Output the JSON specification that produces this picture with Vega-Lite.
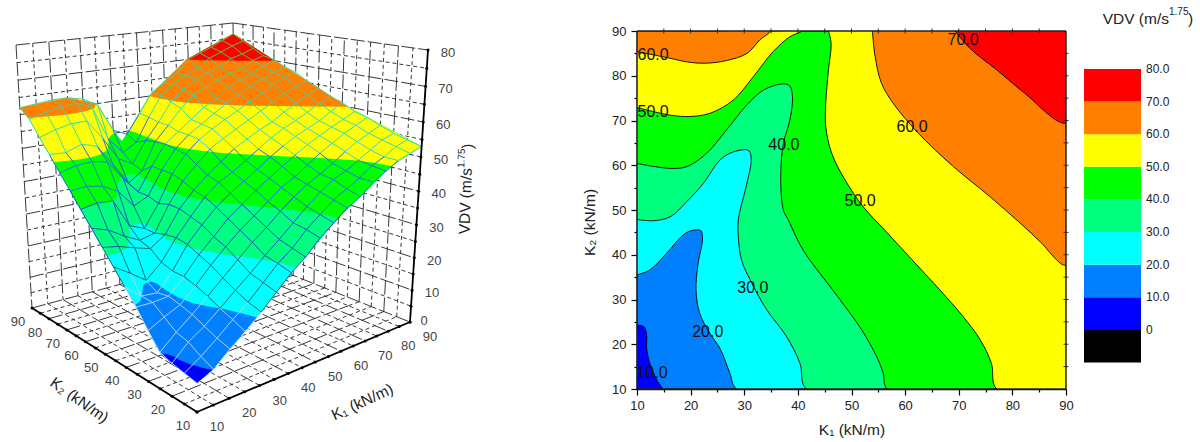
{"$schema":"https://vega.github.io/schema/vega-lite/v6.json","padding":0,"spacing":0,"bounds":"flush","background":"white","config":{"view":{"stroke":null},"font":"Liberation Sans","text":{"font":"Liberation Sans"}},
"datasets":{
"regions":[
{"region":"ge0","band":10,"k1":10,"k2":10,"z":8},{"region":"ge0","band":10,"k1":14.6,"k2":10,"z":10},{"region":"ge0","band":10,"k1":28.6,"k2":10,"z":20},{"region":"ge0","band":10,"k1":41.6,"k2":10,"z":30},{"region":"ge0","band":10,"k1":56.7,"k2":10,"z":40},{"region":"ge0","band":10,"k1":77.1,"k2":10,"z":50},{"region":"ge0","band":10,"k1":90,"k2":10,"z":53},{"region":"ge0","band":10,"k1":90,"k2":37.7,"z":60},{"region":"ge0","band":10,"k1":90,"k2":69.5,"z":70},{"region":"ge0","band":10,"k1":90,"k2":90,"z":76.5},{"region":"ge0","band":10,"k1":69.3,"k2":90,"z":70},{"region":"ge0","band":10,"k1":53.9,"k2":90,"z":60},{"region":"ge0","band":10,"k1":45.7,"k2":90,"z":50},{"region":"ge0","band":10,"k1":43,"k2":90,"z":47},{"region":"ge0","band":10,"k1":40.7,"k2":90,"z":50},{"region":"ge0","band":10,"k1":34.8,"k2":90,"z":60},{"region":"ge0","band":10,"k1":25,"k2":90,"z":63},{"region":"ge0","band":10,"k1":10,"k2":90,"z":62},{"region":"ge0","band":10,"k1":10,"k2":85.4,"z":60},{"region":"ge0","band":10,"k1":10,"k2":72.9,"z":50},{"region":"ge0","band":10,"k1":10,"k2":60.4,"z":40},{"region":"ge0","band":10,"k1":10,"k2":47.9,"z":30},{"region":"ge0","band":10,"k1":10,"k2":35.5,"z":20},{"region":"ge0","band":10,"k1":10,"k2":24.3,"z":10},
{"region":"ge20","band":20,"k1":10,"k2":35.5,"z":20},{"region":"ge20","band":20,"k1":12.4,"k2":36.6,"z":20},{"region":"ge20","band":20,"k1":15.5,"k2":40.3,"z":20},{"region":"ge20","band":20,"k1":18.6,"k2":44.4,"z":20},{"region":"ge20","band":20,"k1":20.2,"k2":45.4,"z":20},{"region":"ge20","band":20,"k1":21.9,"k2":45.4,"z":20},{"region":"ge20","band":20,"k1":22.2,"k2":43.3,"z":20},{"region":"ge20","band":20,"k1":21.4,"k2":38.1,"z":20},{"region":"ge20","band":20,"k1":21,"k2":32.1,"z":20},{"region":"ge20","band":20,"k1":21.7,"k2":26.9,"z":20},{"region":"ge20","band":20,"k1":23.6,"k2":22.4,"z":20},{"region":"ge20","band":20,"k1":25.5,"k2":19,"z":20},{"region":"ge20","band":20,"k1":27.3,"k2":13.6,"z":20},{"region":"ge20","band":20,"k1":28.6,"k2":10,"z":20},{"region":"ge20","band":20,"k1":41.6,"k2":10,"z":30},{"region":"ge20","band":20,"k1":56.7,"k2":10,"z":40},{"region":"ge20","band":20,"k1":77.1,"k2":10,"z":50},{"region":"ge20","band":20,"k1":90,"k2":10,"z":53},{"region":"ge20","band":20,"k1":90,"k2":37.7,"z":60},{"region":"ge20","band":20,"k1":90,"k2":69.5,"z":70},{"region":"ge20","band":20,"k1":90,"k2":90,"z":76.5},{"region":"ge20","band":20,"k1":69.3,"k2":90,"z":70},{"region":"ge20","band":20,"k1":53.9,"k2":90,"z":60},{"region":"ge20","band":20,"k1":45.7,"k2":90,"z":50},{"region":"ge20","band":20,"k1":43,"k2":90,"z":47},{"region":"ge20","band":20,"k1":40.7,"k2":90,"z":50},{"region":"ge20","band":20,"k1":34.8,"k2":90,"z":60},{"region":"ge20","band":20,"k1":25,"k2":90,"z":63},{"region":"ge20","band":20,"k1":10,"k2":90,"z":62},{"region":"ge20","band":20,"k1":10,"k2":85.4,"z":60},{"region":"ge20","band":20,"k1":10,"k2":72.9,"z":50},{"region":"ge20","band":20,"k1":10,"k2":60.4,"z":40},{"region":"ge20","band":20,"k1":10,"k2":47.9,"z":30},
{"region":"ge30","band":30,"k1":10,"k2":47.9,"z":30},{"region":"ge30","band":30,"k1":13,"k2":47.6,"z":30},{"region":"ge30","band":30,"k1":16.2,"k2":48.5,"z":30},{"region":"ge30","band":30,"k1":19.3,"k2":51.9,"z":30},{"region":"ge30","band":30,"k1":22.4,"k2":56,"z":30},{"region":"ge30","band":30,"k1":25.5,"k2":61.2,"z":30},{"region":"ge30","band":30,"k1":28,"k2":63,"z":30},{"region":"ge30","band":30,"k1":30.8,"k2":63.3,"z":30},{"region":"ge30","band":30,"k1":31.3,"k2":61.2,"z":30},{"region":"ge30","band":30,"k1":30.5,"k2":56,"z":30},{"region":"ge30","band":30,"k1":28.9,"k2":47.8,"z":30},{"region":"ge30","band":30,"k1":28.9,"k2":44,"z":30},{"region":"ge30","band":30,"k1":29.5,"k2":38.8,"z":30},{"region":"ge30","band":30,"k1":31.4,"k2":33.7,"z":30},{"region":"ge30","band":30,"k1":34.2,"k2":27.7,"z":30},{"region":"ge30","band":30,"k1":37.9,"k2":21.7,"z":30},{"region":"ge30","band":30,"k1":40.4,"k2":15.7,"z":30},{"region":"ge30","band":30,"k1":41.6,"k2":10,"z":30},{"region":"ge30","band":30,"k1":56.7,"k2":10,"z":40},{"region":"ge30","band":30,"k1":77.1,"k2":10,"z":50},{"region":"ge30","band":30,"k1":90,"k2":10,"z":53},{"region":"ge30","band":30,"k1":90,"k2":37.7,"z":60},{"region":"ge30","band":30,"k1":90,"k2":69.5,"z":70},{"region":"ge30","band":30,"k1":90,"k2":90,"z":76.5},{"region":"ge30","band":30,"k1":69.3,"k2":90,"z":70},{"region":"ge30","band":30,"k1":53.9,"k2":90,"z":60},{"region":"ge30","band":30,"k1":45.7,"k2":90,"z":50},{"region":"ge30","band":30,"k1":43,"k2":90,"z":47},{"region":"ge30","band":30,"k1":40.7,"k2":90,"z":50},{"region":"ge30","band":30,"k1":34.8,"k2":90,"z":60},{"region":"ge30","band":30,"k1":25,"k2":90,"z":63},{"region":"ge30","band":30,"k1":10,"k2":90,"z":62},{"region":"ge30","band":30,"k1":10,"k2":85.4,"z":60},{"region":"ge30","band":30,"k1":10,"k2":72.9,"z":50},{"region":"ge30","band":30,"k1":10,"k2":60.4,"z":40},
{"region":"ge40","band":40,"k1":10,"k2":60.4,"z":40},{"region":"ge40","band":40,"k1":16.2,"k2":59.3,"z":40},{"region":"ge40","band":40,"k1":19.3,"k2":59.7,"z":40},{"region":"ge40","band":40,"k1":23,"k2":62.7,"z":40},{"region":"ge40","band":40,"k1":26.7,"k2":67.9,"z":40},{"region":"ge40","band":40,"k1":30.5,"k2":73.5,"z":40},{"region":"ge40","band":40,"k1":33.6,"k2":76.8,"z":40},{"region":"ge40","band":40,"k1":37.3,"k2":78.2,"z":40},{"region":"ge40","band":40,"k1":38.5,"k2":77.7,"z":40},{"region":"ge40","band":40,"k1":39,"k2":75.3,"z":40},{"region":"ge40","band":40,"k1":38.5,"k2":70.1,"z":40},{"region":"ge40","band":40,"k1":37.3,"k2":64.9,"z":40},{"region":"ge40","band":40,"k1":36.8,"k2":57.4,"z":40},{"region":"ge40","band":40,"k1":37.3,"k2":50,"z":40},{"region":"ge40","band":40,"k1":38.2,"k2":47.8,"z":40},{"region":"ge40","band":40,"k1":41,"k2":41,"z":40},{"region":"ge40","band":40,"k1":46,"k2":32.9,"z":40},{"region":"ge40","band":40,"k1":47.9,"k2":29.9,"z":40},{"region":"ge40","band":40,"k1":51.9,"k2":23.2,"z":40},{"region":"ge40","band":40,"k1":54.7,"k2":17.2,"z":40},{"region":"ge40","band":40,"k1":55.9,"k2":13.6,"z":40},{"region":"ge40","band":40,"k1":56.7,"k2":10,"z":40},{"region":"ge40","band":40,"k1":77.1,"k2":10,"z":50},{"region":"ge40","band":40,"k1":90,"k2":10,"z":53},{"region":"ge40","band":40,"k1":90,"k2":37.7,"z":60},{"region":"ge40","band":40,"k1":90,"k2":69.5,"z":70},{"region":"ge40","band":40,"k1":90,"k2":90,"z":76.5},{"region":"ge40","band":40,"k1":69.3,"k2":90,"z":70},{"region":"ge40","band":40,"k1":53.9,"k2":90,"z":60},{"region":"ge40","band":40,"k1":45.7,"k2":90,"z":50},{"region":"ge40","band":40,"k1":43,"k2":90,"z":47},{"region":"ge40","band":40,"k1":40.7,"k2":90,"z":50},{"region":"ge40","band":40,"k1":34.8,"k2":90,"z":60},{"region":"ge40","band":40,"k1":25,"k2":90,"z":63},{"region":"ge40","band":40,"k1":10,"k2":90,"z":62},{"region":"ge40","band":40,"k1":10,"k2":85.4,"z":60},{"region":"ge40","band":40,"k1":10,"k2":72.9,"z":50},
{"region":"ge50a","band":50,"k1":10,"k2":72.9,"z":50},{"region":"ge50a","band":50,"k1":16.2,"k2":71.2,"z":50},{"region":"ge50a","band":50,"k1":19.9,"k2":70.9,"z":50},{"region":"ge50a","band":50,"k1":23.6,"k2":71.6,"z":50},{"region":"ge50a","band":50,"k1":28,"k2":74.6,"z":50},{"region":"ge50a","band":50,"k1":31.7,"k2":79.8,"z":50},{"region":"ge50a","band":50,"k1":35.4,"k2":85.4,"z":50},{"region":"ge50a","band":50,"k1":38.5,"k2":88.7,"z":50},{"region":"ge50a","band":50,"k1":40.7,"k2":90,"z":50},{"region":"ge50a","band":50,"k1":34.8,"k2":90,"z":60},{"region":"ge50a","band":50,"k1":25,"k2":90,"z":63},{"region":"ge50a","band":50,"k1":10,"k2":90,"z":62},{"region":"ge50a","band":50,"k1":10,"k2":85.4,"z":60},
{"region":"ge50b","band":50,"k1":45.7,"k2":90,"z":50},{"region":"ge50b","band":50,"k1":46.2,"k2":87.2,"z":50},{"region":"ge50b","band":50,"k1":45.7,"k2":81.3,"z":50},{"region":"ge50b","band":50,"k1":45.2,"k2":73.8,"z":50},{"region":"ge50b","band":50,"k1":45.2,"k2":68.6,"z":50},{"region":"ge50b","band":50,"k1":46.3,"k2":62.7,"z":50},{"region":"ge50b","band":50,"k1":48.8,"k2":56.7,"z":50},{"region":"ge50b","band":50,"k1":52.2,"k2":50.7,"z":50},{"region":"ge50b","band":50,"k1":56.2,"k2":45.5,"z":50},{"region":"ge50b","band":50,"k1":62.2,"k2":37.7,"z":50},{"region":"ge50b","band":50,"k1":66.5,"k2":32.1,"z":50},{"region":"ge50b","band":50,"k1":70.8,"k2":26.2,"z":50},{"region":"ge50b","band":50,"k1":74,"k2":21,"z":50},{"region":"ge50b","band":50,"k1":76.1,"k2":15.7,"z":50},{"region":"ge50b","band":50,"k1":77.1,"k2":10,"z":50},{"region":"ge50b","band":50,"k1":90,"k2":10,"z":53},{"region":"ge50b","band":50,"k1":90,"k2":37.7,"z":60},{"region":"ge50b","band":50,"k1":90,"k2":69.5,"z":70},{"region":"ge50b","band":50,"k1":90,"k2":90,"z":76.5},{"region":"ge50b","band":50,"k1":69.3,"k2":90,"z":70},{"region":"ge50b","band":50,"k1":53.9,"k2":90,"z":60},
{"region":"ge60a","band":60,"k1":10,"k2":85.4,"z":60},{"region":"ge60a","band":60,"k1":16.2,"k2":83.9,"z":60},{"region":"ge60a","band":60,"k1":19.3,"k2":83.1,"z":60},{"region":"ge60a","band":60,"k1":22.7,"k2":82.8,"z":60},{"region":"ge60a","band":60,"k1":26.7,"k2":83.4,"z":60},{"region":"ge60a","band":60,"k1":30.5,"k2":85,"z":60},{"region":"ge60a","band":60,"k1":32.9,"k2":88,"z":60},{"region":"ge60a","band":60,"k1":34.8,"k2":90,"z":60},{"region":"ge60a","band":60,"k1":25,"k2":90,"z":63},{"region":"ge60a","band":60,"k1":10,"k2":90,"z":62},
{"region":"ge60b","band":60,"k1":53.9,"k2":90,"z":60},{"region":"ge60b","band":60,"k1":54.4,"k2":84.3,"z":60},{"region":"ge60b","band":60,"k1":55.6,"k2":78.3,"z":60},{"region":"ge60b","band":60,"k1":57.8,"k2":73.8,"z":60},{"region":"ge60b","band":60,"k1":62.2,"k2":67.5,"z":60},{"region":"ge60b","band":60,"k1":69,"k2":59.7,"z":60},{"region":"ge60b","band":60,"k1":75.8,"k2":53,"z":60},{"region":"ge60b","band":60,"k1":82.9,"k2":45.5,"z":60},{"region":"ge60b","band":60,"k1":85.2,"k2":42.9,"z":60},{"region":"ge60b","band":60,"k1":90,"k2":37.7,"z":60},{"region":"ge60b","band":60,"k1":90,"k2":69.5,"z":70},{"region":"ge60b","band":60,"k1":90,"k2":90,"z":76.5},{"region":"ge60b","band":60,"k1":69.3,"k2":90,"z":70},
{"region":"ge70","band":70,"k1":69.3,"k2":90,"z":70},{"region":"ge70","band":70,"k1":72.1,"k2":86.1,"z":70},{"region":"ge70","band":70,"k1":77.1,"k2":81.3,"z":70},{"region":"ge70","band":70,"k1":82,"k2":76.4,"z":70},{"region":"ge70","band":70,"k1":90,"k2":69.5,"z":70},{"region":"ge70","band":70,"k1":90,"k2":90,"z":76.5},
{"region":"lt10","band":0,"k1":10,"k2":24.3,"z":10},{"region":"lt10","band":0,"k1":11.3,"k2":23.9,"z":10},{"region":"lt10","band":0,"k1":11.8,"k2":22.1,"z":10},{"region":"lt10","band":0,"k1":11.8,"k2":19.1,"z":10},{"region":"lt10","band":0,"k1":12.4,"k2":15.7,"z":10},{"region":"lt10","band":0,"k1":13.7,"k2":12,"z":10},{"region":"lt10","band":0,"k1":14.6,"k2":10,"z":10},{"region":"lt10","band":0,"k1":10,"k2":10,"z":8}
],
"surface":[
{"k2":10,"k1":10,"z":8},{"k2":10,"k1":15,"z":10},{"k2":10,"k1":20,"z":14},{"k2":10,"k1":25,"z":17},{"k2":10,"k1":30,"z":21},{"k2":10,"k1":35,"z":25},{"k2":10,"k1":40,"z":29},{"k2":10,"k1":45,"z":32},{"k2":10,"k1":50,"z":36},{"k2":10,"k1":55,"z":39},{"k2":10,"k1":60,"z":42},{"k2":10,"k1":65,"z":44},{"k2":10,"k1":70,"z":47},{"k2":10,"k1":75,"z":49},{"k2":10,"k1":80,"z":51},{"k2":10,"k1":85,"z":52},{"k2":10,"k1":90,"z":53},
{"k2":15,"k1":10,"z":8.7},{"k2":15,"k1":15,"z":11.6},{"k2":15,"k1":20,"z":15},{"k2":15,"k1":25,"z":18.6},{"k2":15,"k1":30,"z":22},{"k2":15,"k1":35,"z":26},{"k2":15,"k1":40,"z":30},{"k2":15,"k1":45,"z":33},{"k2":15,"k1":50,"z":37},{"k2":15,"k1":55,"z":40},{"k2":15,"k1":60,"z":43},{"k2":15,"k1":65,"z":45},{"k2":15,"k1":70,"z":47},{"k2":15,"k1":75,"z":49.5},{"k2":15,"k1":80,"z":51},{"k2":15,"k1":85,"z":53},{"k2":15,"k1":90,"z":54},
{"k2":20,"k1":10,"z":9.4},{"k2":20,"k1":15,"z":13.7},{"k2":20,"k1":20,"z":16.5},{"k2":20,"k1":25,"z":20},{"k2":20,"k1":30,"z":23.6},{"k2":20,"k1":35,"z":27},{"k2":20,"k1":40,"z":30.7},{"k2":20,"k1":45,"z":34},{"k2":20,"k1":50,"z":37.5},{"k2":20,"k1":55,"z":41},{"k2":20,"k1":60,"z":44},{"k2":20,"k1":65,"z":46.5},{"k2":20,"k1":70,"z":48},{"k2":20,"k1":75,"z":50},{"k2":20,"k1":80,"z":52},{"k2":20,"k1":85,"z":54},{"k2":20,"k1":90,"z":55},
{"k2":25,"k1":10,"z":10.5},{"k2":25,"k1":15,"z":14.5},{"k2":25,"k1":20,"z":18},{"k2":25,"k1":25,"z":21.7},{"k2":25,"k1":30,"z":25.5},{"k2":25,"k1":35,"z":29.3},{"k2":25,"k1":40,"z":33},{"k2":25,"k1":45,"z":36},{"k2":25,"k1":50,"z":39.5},{"k2":25,"k1":55,"z":42.5},{"k2":25,"k1":60,"z":45},{"k2":25,"k1":65,"z":47},{"k2":25,"k1":70,"z":49},{"k2":25,"k1":75,"z":51.5},{"k2":25,"k1":80,"z":53.5},{"k2":25,"k1":85,"z":55},{"k2":25,"k1":90,"z":56.5},
{"k2":30,"k1":10,"z":14.7},{"k2":30,"k1":15,"z":17},{"k2":30,"k1":20,"z":19},{"k2":30,"k1":25,"z":23},{"k2":30,"k1":30,"z":27.5},{"k2":30,"k1":35,"z":31.5},{"k2":30,"k1":40,"z":35},{"k2":30,"k1":45,"z":38},{"k2":30,"k1":50,"z":41},{"k2":30,"k1":55,"z":44},{"k2":30,"k1":60,"z":46},{"k2":30,"k1":65,"z":48.5},{"k2":30,"k1":70,"z":51},{"k2":30,"k1":75,"z":53},{"k2":30,"k1":80,"z":55},{"k2":30,"k1":85,"z":56.5},{"k2":30,"k1":90,"z":58},
{"k2":35,"k1":10,"z":19.6},{"k2":35,"k1":15,"z":19.4},{"k2":35,"k1":20,"z":19.7},{"k2":35,"k1":25,"z":24},{"k2":35,"k1":30,"z":29},{"k2":35,"k1":35,"z":33},{"k2":35,"k1":40,"z":37},{"k2":35,"k1":45,"z":40},{"k2":35,"k1":50,"z":43},{"k2":35,"k1":55,"z":45.5},{"k2":35,"k1":60,"z":48},{"k2":35,"k1":65,"z":50.3},{"k2":35,"k1":70,"z":52.5},{"k2":35,"k1":75,"z":54.3},{"k2":35,"k1":80,"z":56},{"k2":35,"k1":85,"z":57.5},{"k2":35,"k1":90,"z":59},
{"k2":40,"k1":10,"z":23.6},{"k2":40,"k1":15,"z":19.5},{"k2":40,"k1":20,"z":19},{"k2":40,"k1":25,"z":24},{"k2":40,"k1":30,"z":30.5},{"k2":40,"k1":35,"z":35},{"k2":40,"k1":40,"z":39},{"k2":40,"k1":45,"z":42},{"k2":40,"k1":50,"z":44.5},{"k2":40,"k1":55,"z":47},{"k2":40,"k1":60,"z":49.7},{"k2":40,"k1":65,"z":52},{"k2":40,"k1":70,"z":54},{"k2":40,"k1":75,"z":55.5},{"k2":40,"k1":80,"z":57},{"k2":40,"k1":85,"z":59},{"k2":40,"k1":90,"z":61},
{"k2":45,"k1":10,"z":27.7},{"k2":45,"k1":15,"z":24.5},{"k2":45,"k1":20,"z":21},{"k2":45,"k1":25,"z":25},{"k2":45,"k1":30,"z":31},{"k2":45,"k1":35,"z":36},{"k2":45,"k1":40,"z":40.7},{"k2":45,"k1":45,"z":44},{"k2":45,"k1":50,"z":46},{"k2":45,"k1":55,"z":48.5},{"k2":45,"k1":60,"z":51},{"k2":45,"k1":65,"z":53.5},{"k2":45,"k1":70,"z":55.5},{"k2":45,"k1":75,"z":57},{"k2":45,"k1":80,"z":58.7},{"k2":45,"k1":85,"z":60.7},{"k2":45,"k1":90,"z":62},
{"k2":50,"k1":10,"z":31.7},{"k2":50,"k1":15,"z":30.7},{"k2":50,"k1":20,"z":29},{"k2":50,"k1":25,"z":27.5},{"k2":50,"k1":30,"z":30.5},{"k2":50,"k1":35,"z":37},{"k2":50,"k1":40,"z":41.5},{"k2":50,"k1":45,"z":45},{"k2":50,"k1":50,"z":48},{"k2":50,"k1":55,"z":51},{"k2":50,"k1":60,"z":53},{"k2":50,"k1":65,"z":55},{"k2":50,"k1":70,"z":56.5},{"k2":50,"k1":75,"z":58.7},{"k2":50,"k1":80,"z":60.7},{"k2":50,"k1":85,"z":62.5},{"k2":50,"k1":90,"z":64},
{"k2":55,"k1":10,"z":35.7},{"k2":55,"k1":15,"z":34},{"k2":55,"k1":20,"z":31},{"k2":55,"k1":25,"z":28.5},{"k2":55,"k1":30,"z":29.5},{"k2":55,"k1":35,"z":37},{"k2":55,"k1":40,"z":43},{"k2":55,"k1":45,"z":47},{"k2":55,"k1":50,"z":50.7},{"k2":55,"k1":55,"z":53},{"k2":55,"k1":60,"z":55},{"k2":55,"k1":65,"z":57},{"k2":55,"k1":70,"z":59},{"k2":55,"k1":75,"z":61},{"k2":55,"k1":80,"z":63},{"k2":55,"k1":85,"z":64.5},{"k2":55,"k1":90,"z":65.5},
{"k2":60,"k1":10,"z":39.7},{"k2":60,"k1":15,"z":40.5},{"k2":60,"k1":20,"z":40},{"k2":60,"k1":25,"z":31.5},{"k2":60,"k1":30,"z":29.5},{"k2":60,"k1":35,"z":36},{"k2":60,"k1":40,"z":44},{"k2":60,"k1":45,"z":49},{"k2":60,"k1":50,"z":52.5},{"k2":60,"k1":55,"z":55},{"k2":60,"k1":60,"z":57},{"k2":60,"k1":65,"z":59},{"k2":60,"k1":70,"z":61},{"k2":60,"k1":75,"z":63},{"k2":60,"k1":80,"z":65},{"k2":60,"k1":85,"z":66.5},{"k2":60,"k1":90,"z":67.5},
{"k2":65,"k1":10,"z":43.7},{"k2":65,"k1":15,"z":44},{"k2":65,"k1":20,"z":43},{"k2":65,"k1":25,"z":40.5},{"k2":65,"k1":30,"z":35},{"k2":65,"k1":35,"z":37},{"k2":65,"k1":40,"z":44},{"k2":65,"k1":45,"z":49.5},{"k2":65,"k1":50,"z":53},{"k2":65,"k1":55,"z":55.5},{"k2":65,"k1":60,"z":58},{"k2":65,"k1":65,"z":60.5},{"k2":65,"k1":70,"z":62.5},{"k2":65,"k1":75,"z":64.5},{"k2":65,"k1":80,"z":66},{"k2":65,"k1":85,"z":67.5},{"k2":65,"k1":90,"z":68.6},
{"k2":70,"k1":10,"z":47.6},{"k2":70,"k1":15,"z":48.8},{"k2":70,"k1":20,"z":49},{"k2":70,"k1":25,"z":48},{"k2":70,"k1":30,"z":42},{"k2":70,"k1":35,"z":37},{"k2":70,"k1":40,"z":44},{"k2":70,"k1":45,"z":50},{"k2":70,"k1":50,"z":53},{"k2":70,"k1":55,"z":56},{"k2":70,"k1":60,"z":59},{"k2":70,"k1":65,"z":61},{"k2":70,"k1":70,"z":63.7},{"k2":70,"k1":75,"z":65.5},{"k2":70,"k1":80,"z":67},{"k2":70,"k1":85,"z":68.7},{"k2":70,"k1":90,"z":70.3},
{"k2":75,"k1":10,"z":51.7},{"k2":75,"k1":15,"z":51.4},{"k2":75,"k1":20,"z":53},{"k2":75,"k1":25,"z":51.5},{"k2":75,"k1":30,"z":45},{"k2":75,"k1":35,"z":38.5},{"k2":75,"k1":40,"z":41.5},{"k2":75,"k1":45,"z":49.7},{"k2":75,"k1":50,"z":54},{"k2":75,"k1":55,"z":58.5},{"k2":75,"k1":60,"z":62},{"k2":75,"k1":65,"z":64},{"k2":75,"k1":70,"z":65.5},{"k2":75,"k1":75,"z":67},{"k2":75,"k1":80,"z":68},{"k2":75,"k1":85,"z":70},{"k2":75,"k1":90,"z":71},
{"k2":80,"k1":10,"z":55.5},{"k2":80,"k1":15,"z":57},{"k2":80,"k1":20,"z":58},{"k2":80,"k1":25,"z":58},{"k2":80,"k1":30,"z":52},{"k2":80,"k1":35,"z":45},{"k2":80,"k1":40,"z":42.5},{"k2":80,"k1":45,"z":49},{"k2":80,"k1":50,"z":54},{"k2":80,"k1":55,"z":59.7},{"k2":80,"k1":60,"z":63},{"k2":80,"k1":65,"z":65.5},{"k2":80,"k1":70,"z":67},{"k2":80,"k1":75,"z":68.5},{"k2":80,"k1":80,"z":70.5},{"k2":80,"k1":85,"z":71.5},{"k2":80,"k1":90,"z":72.8},
{"k2":85,"k1":10,"z":59.7},{"k2":85,"k1":15,"z":61},{"k2":85,"k1":20,"z":62},{"k2":85,"k1":25,"z":62.3},{"k2":85,"k1":30,"z":60.3},{"k2":85,"k1":35,"z":50},{"k2":85,"k1":40,"z":45},{"k2":85,"k1":45,"z":47.5},{"k2":85,"k1":50,"z":54.7},{"k2":85,"k1":55,"z":61},{"k2":85,"k1":60,"z":64},{"k2":85,"k1":65,"z":66},{"k2":85,"k1":70,"z":68},{"k2":85,"k1":75,"z":70.5},{"k2":85,"k1":80,"z":72},{"k2":85,"k1":85,"z":73.5},{"k2":85,"k1":90,"z":74.7},
{"k2":90,"k1":10,"z":62},{"k2":90,"k1":15,"z":62.5},{"k2":90,"k1":20,"z":63},{"k2":90,"k1":25,"z":63},{"k2":90,"k1":30,"z":62},{"k2":90,"k1":35,"z":59.5},{"k2":90,"k1":40,"z":51},{"k2":90,"k1":45,"z":49},{"k2":90,"k1":50,"z":55},{"k2":90,"k1":55,"z":61},{"k2":90,"k1":60,"z":63.5},{"k2":90,"k1":65,"z":66},{"k2":90,"k1":70,"z":70},{"k2":90,"k1":75,"z":71.5},{"k2":90,"k1":80,"z":73},{"k2":90,"k1":85,"z":74.7},{"k2":90,"k1":90,"z":76.5}
],
"grid":[
{"id":1,"kind":"major","k1":[20,20],"k2":[10,90],"z":[0,0]},{"id":2,"kind":"major","k1":[30,30],"k2":[10,90],"z":[0,0]},{"id":3,"kind":"major","k1":[40,40],"k2":[10,90],"z":[0,0]},{"id":4,"kind":"major","k1":[50,50],"k2":[10,90],"z":[0,0]},{"id":5,"kind":"major","k1":[60,60],"k2":[10,90],"z":[0,0]},{"id":6,"kind":"major","k1":[70,70],"k2":[10,90],"z":[0,0]},{"id":7,"kind":"major","k1":[80,80],"k2":[10,90],"z":[0,0]},
{"id":8,"kind":"minor","k1":[15,15],"k2":[10,90],"z":[0,0]},{"id":9,"kind":"minor","k1":[25,25],"k2":[10,90],"z":[0,0]},{"id":10,"kind":"minor","k1":[35,35],"k2":[10,90],"z":[0,0]},{"id":11,"kind":"minor","k1":[45,45],"k2":[10,90],"z":[0,0]},{"id":12,"kind":"minor","k1":[55,55],"k2":[10,90],"z":[0,0]},{"id":13,"kind":"minor","k1":[65,65],"k2":[10,90],"z":[0,0]},{"id":14,"kind":"minor","k1":[75,75],"k2":[10,90],"z":[0,0]},{"id":15,"kind":"minor","k1":[85,85],"k2":[10,90],"z":[0,0]},
{"id":16,"kind":"major","k1":[10,90],"k2":[20,20],"z":[0,0]},{"id":17,"kind":"major","k1":[10,90],"k2":[30,30],"z":[0,0]},{"id":18,"kind":"major","k1":[10,90],"k2":[40,40],"z":[0,0]},{"id":19,"kind":"major","k1":[10,90],"k2":[50,50],"z":[0,0]},{"id":20,"kind":"major","k1":[10,90],"k2":[60,60],"z":[0,0]},{"id":21,"kind":"major","k1":[10,90],"k2":[70,70],"z":[0,0]},{"id":22,"kind":"major","k1":[10,90],"k2":[80,80],"z":[0,0]},
{"id":23,"kind":"minor","k1":[10,90],"k2":[15,15],"z":[0,0]},{"id":24,"kind":"minor","k1":[10,90],"k2":[25,25],"z":[0,0]},{"id":25,"kind":"minor","k1":[10,90],"k2":[35,35],"z":[0,0]},{"id":26,"kind":"minor","k1":[10,90],"k2":[45,45],"z":[0,0]},{"id":27,"kind":"minor","k1":[10,90],"k2":[55,55],"z":[0,0]},{"id":28,"kind":"minor","k1":[10,90],"k2":[65,65],"z":[0,0]},{"id":29,"kind":"minor","k1":[10,90],"k2":[75,75],"z":[0,0]},{"id":30,"kind":"minor","k1":[10,90],"k2":[85,85],"z":[0,0]},
{"id":31,"kind":"major","k1":[10,90],"k2":[90,90],"z":[0,0]},{"id":32,"kind":"major","k1":[90,90],"k2":[10,90],"z":[0,0]},
{"id":33,"kind":"major","k1":[10,10],"k2":[90,90],"z":[0,80]},{"id":34,"kind":"major","k1":[20,20],"k2":[90,90],"z":[0,80]},{"id":35,"kind":"major","k1":[30,30],"k2":[90,90],"z":[0,80]},{"id":36,"kind":"major","k1":[40,40],"k2":[90,90],"z":[0,80]},{"id":37,"kind":"major","k1":[50,50],"k2":[90,90],"z":[0,80]},{"id":38,"kind":"major","k1":[60,60],"k2":[90,90],"z":[0,80]},{"id":39,"kind":"major","k1":[70,70],"k2":[90,90],"z":[0,80]},{"id":40,"kind":"major","k1":[80,80],"k2":[90,90],"z":[0,80]},{"id":41,"kind":"major","k1":[90,90],"k2":[90,90],"z":[0,80]},
{"id":42,"kind":"minor","k1":[15,15],"k2":[90,90],"z":[0,80]},{"id":43,"kind":"minor","k1":[25,25],"k2":[90,90],"z":[0,80]},{"id":44,"kind":"minor","k1":[35,35],"k2":[90,90],"z":[0,80]},{"id":45,"kind":"minor","k1":[45,45],"k2":[90,90],"z":[0,80]},{"id":46,"kind":"minor","k1":[55,55],"k2":[90,90],"z":[0,80]},{"id":47,"kind":"minor","k1":[65,65],"k2":[90,90],"z":[0,80]},{"id":48,"kind":"minor","k1":[75,75],"k2":[90,90],"z":[0,80]},{"id":49,"kind":"minor","k1":[85,85],"k2":[90,90],"z":[0,80]},
{"id":50,"kind":"major","k1":[90,90],"k2":[20,20],"z":[0,80]},{"id":51,"kind":"major","k1":[90,90],"k2":[30,30],"z":[0,80]},{"id":52,"kind":"major","k1":[90,90],"k2":[40,40],"z":[0,80]},{"id":53,"kind":"major","k1":[90,90],"k2":[50,50],"z":[0,80]},{"id":54,"kind":"major","k1":[90,90],"k2":[60,60],"z":[0,80]},{"id":55,"kind":"major","k1":[90,90],"k2":[70,70],"z":[0,80]},{"id":56,"kind":"major","k1":[90,90],"k2":[80,80],"z":[0,80]},
{"id":57,"kind":"minor","k1":[90,90],"k2":[15,15],"z":[0,80]},{"id":58,"kind":"minor","k1":[90,90],"k2":[25,25],"z":[0,80]},{"id":59,"kind":"minor","k1":[90,90],"k2":[35,35],"z":[0,80]},{"id":60,"kind":"minor","k1":[90,90],"k2":[45,45],"z":[0,80]},{"id":61,"kind":"minor","k1":[90,90],"k2":[55,55],"z":[0,80]},{"id":62,"kind":"minor","k1":[90,90],"k2":[65,65],"z":[0,80]},{"id":63,"kind":"minor","k1":[90,90],"k2":[75,75],"z":[0,80]},{"id":64,"kind":"minor","k1":[90,90],"k2":[85,85],"z":[0,80]},
{"id":65,"kind":"major","k1":[10,90],"k2":[90,90],"z":[10,10]},{"id":66,"kind":"major","k1":[10,90],"k2":[90,90],"z":[20,20]},{"id":67,"kind":"major","k1":[10,90],"k2":[90,90],"z":[30,30]},{"id":68,"kind":"major","k1":[10,90],"k2":[90,90],"z":[40,40]},{"id":69,"kind":"major","k1":[10,90],"k2":[90,90],"z":[50,50]},{"id":70,"kind":"major","k1":[10,90],"k2":[90,90],"z":[60,60]},{"id":71,"kind":"major","k1":[10,90],"k2":[90,90],"z":[70,70]},{"id":72,"kind":"major","k1":[10,90],"k2":[90,90],"z":[80,80]},
{"id":73,"kind":"minor","k1":[10,90],"k2":[90,90],"z":[5,5]},{"id":74,"kind":"minor","k1":[10,90],"k2":[90,90],"z":[15,15]},{"id":75,"kind":"minor","k1":[10,90],"k2":[90,90],"z":[25,25]},{"id":76,"kind":"minor","k1":[10,90],"k2":[90,90],"z":[35,35]},{"id":77,"kind":"minor","k1":[10,90],"k2":[90,90],"z":[45,45]},{"id":78,"kind":"minor","k1":[10,90],"k2":[90,90],"z":[55,55]},{"id":79,"kind":"minor","k1":[10,90],"k2":[90,90],"z":[65,65]},{"id":80,"kind":"minor","k1":[10,90],"k2":[90,90],"z":[75,75]},
{"id":81,"kind":"major","k1":[90,90],"k2":[10,90],"z":[10,10]},{"id":82,"kind":"major","k1":[90,90],"k2":[10,90],"z":[20,20]},{"id":83,"kind":"major","k1":[90,90],"k2":[10,90],"z":[30,30]},{"id":84,"kind":"major","k1":[90,90],"k2":[10,90],"z":[40,40]},{"id":85,"kind":"major","k1":[90,90],"k2":[10,90],"z":[50,50]},{"id":86,"kind":"major","k1":[90,90],"k2":[10,90],"z":[60,60]},{"id":87,"kind":"major","k1":[90,90],"k2":[10,90],"z":[70,70]},{"id":88,"kind":"major","k1":[90,90],"k2":[10,90],"z":[80,80]},
{"id":89,"kind":"minor","k1":[90,90],"k2":[10,90],"z":[5,5]},{"id":90,"kind":"minor","k1":[90,90],"k2":[10,90],"z":[15,15]},{"id":91,"kind":"minor","k1":[90,90],"k2":[10,90],"z":[25,25]},{"id":92,"kind":"minor","k1":[90,90],"k2":[10,90],"z":[35,35]},{"id":93,"kind":"minor","k1":[90,90],"k2":[10,90],"z":[45,45]},{"id":94,"kind":"minor","k1":[90,90],"k2":[10,90],"z":[55,55]},{"id":95,"kind":"minor","k1":[90,90],"k2":[10,90],"z":[65,65]},{"id":96,"kind":"minor","k1":[90,90],"k2":[10,90],"z":[75,75]}
],
"axes3d":[
{"id":"k2","k1":[10,10],"k2":[10,90],"z":[0,0]},{"id":"k1","k1":[10,90],"k2":[10,10],"z":[0,0]},{"id":"v","k1":[90,90],"k2":[10,10],"z":[0,80]}
],
"ticks3d":[
{"axis":"k1","k1":10,"k2":10,"z":0,"label":"10"},{"axis":"k1","k1":15,"k2":10,"z":0,"label":""},{"axis":"k1","k1":20,"k2":10,"z":0,"label":"20"},{"axis":"k1","k1":25,"k2":10,"z":0,"label":""},{"axis":"k1","k1":30,"k2":10,"z":0,"label":"30"},{"axis":"k1","k1":35,"k2":10,"z":0,"label":""},{"axis":"k1","k1":40,"k2":10,"z":0,"label":"40"},{"axis":"k1","k1":45,"k2":10,"z":0,"label":""},{"axis":"k1","k1":50,"k2":10,"z":0,"label":"50"},{"axis":"k1","k1":55,"k2":10,"z":0,"label":""},{"axis":"k1","k1":60,"k2":10,"z":0,"label":"60"},{"axis":"k1","k1":65,"k2":10,"z":0,"label":""},{"axis":"k1","k1":70,"k2":10,"z":0,"label":"70"},{"axis":"k1","k1":75,"k2":10,"z":0,"label":""},{"axis":"k1","k1":80,"k2":10,"z":0,"label":"80"},{"axis":"k1","k1":85,"k2":10,"z":0,"label":""},{"axis":"k1","k1":90,"k2":10,"z":0,"label":"90"},
{"axis":"k2","k1":10,"k2":10,"z":0,"label":"10"},{"axis":"k2","k1":10,"k2":15,"z":0,"label":""},{"axis":"k2","k1":10,"k2":20,"z":0,"label":"20"},{"axis":"k2","k1":10,"k2":25,"z":0,"label":""},{"axis":"k2","k1":10,"k2":30,"z":0,"label":"30"},{"axis":"k2","k1":10,"k2":35,"z":0,"label":""},{"axis":"k2","k1":10,"k2":40,"z":0,"label":"40"},{"axis":"k2","k1":10,"k2":45,"z":0,"label":""},{"axis":"k2","k1":10,"k2":50,"z":0,"label":"50"},{"axis":"k2","k1":10,"k2":55,"z":0,"label":""},{"axis":"k2","k1":10,"k2":60,"z":0,"label":"60"},{"axis":"k2","k1":10,"k2":65,"z":0,"label":""},{"axis":"k2","k1":10,"k2":70,"z":0,"label":"70"},{"axis":"k2","k1":10,"k2":75,"z":0,"label":""},{"axis":"k2","k1":10,"k2":80,"z":0,"label":"80"},{"axis":"k2","k1":10,"k2":85,"z":0,"label":""},{"axis":"k2","k1":10,"k2":90,"z":0,"label":"90"},
{"axis":"v","k1":90,"k2":10,"z":0,"label":"0"},{"axis":"v","k1":90,"k2":10,"z":5,"label":""},{"axis":"v","k1":90,"k2":10,"z":10,"label":"10"},{"axis":"v","k1":90,"k2":10,"z":15,"label":""},{"axis":"v","k1":90,"k2":10,"z":20,"label":"20"},{"axis":"v","k1":90,"k2":10,"z":25,"label":""},{"axis":"v","k1":90,"k2":10,"z":30,"label":"30"},{"axis":"v","k1":90,"k2":10,"z":35,"label":""},{"axis":"v","k1":90,"k2":10,"z":40,"label":"40"},{"axis":"v","k1":90,"k2":10,"z":45,"label":""},{"axis":"v","k1":90,"k2":10,"z":50,"label":"50"},{"axis":"v","k1":90,"k2":10,"z":55,"label":""},{"axis":"v","k1":90,"k2":10,"z":60,"label":"60"},{"axis":"v","k1":90,"k2":10,"z":65,"label":""},{"axis":"v","k1":90,"k2":10,"z":70,"label":"70"},{"axis":"v","k1":90,"k2":10,"z":75,"label":""},{"axis":"v","k1":90,"k2":10,"z":80,"label":"80"}
],
"frameTicks":[
{"k1":15,"k2":90},{"k1":20,"k2":90},{"k1":25,"k2":90},{"k1":30,"k2":90},{"k1":35,"k2":90},{"k1":40,"k2":90},{"k1":45,"k2":90},{"k1":50,"k2":90},{"k1":55,"k2":90},{"k1":60,"k2":90},{"k1":65,"k2":90},{"k1":70,"k2":90},{"k1":75,"k2":90},{"k1":80,"k2":90},{"k1":85,"k2":90}
],
"frameTicksY":[
{"k1":90,"k2":15},{"k1":90,"k2":20},{"k1":90,"k2":25},{"k1":90,"k2":30},{"k1":90,"k2":35},{"k1":90,"k2":40},{"k1":90,"k2":45},{"k1":90,"k2":50},{"k1":90,"k2":55},{"k1":90,"k2":60},{"k1":90,"k2":65},{"k1":90,"k2":70},{"k1":90,"k2":75},{"k1":90,"k2":80},{"k1":90,"k2":85}
]
},
"hconcat":[
{"width":637,"height":442,
"encoding":{
"x":{"field":"sx","type":"quantitative","scale":{"domain":[0,637],"range":[0,637],"nice":false,"zero":false},"axis":null},
"y":{"field":"sy","type":"quantitative","scale":{"domain":[0,442],"range":[0,442],"nice":false,"zero":false},"axis":null}},
"layer":[
{"data":{"name":"grid"},
"transform":[{"flatten":["k1","k2","z"]},{"calculate":"(datum.k1-10)/80/((datum.k1-10)/80+(90-datum.k1)/80*0.8)","as":"U"},{"calculate":"(datum.k2-10)/80/((datum.k2-10)/80+(90-datum.k2)/80*0.8)","as":"V"},{"calculate":"datum.z/80/(datum.z/80+(80-datum.z)/80*1.08)","as":"W"},{"calculate":"(1-datum.W)*((1-datum.V)*((1-datum.U)*197+datum.U*410)+datum.V*((1-datum.U)*32+datum.U*237))+datum.W*((1-datum.V)*((1-datum.U)*199+datum.U*428)+datum.V*((1-datum.U)*16+datum.U*233))","as":"sx"},{"calculate":"(1-datum.W)*((1-datum.V)*((1-datum.U)*412+datum.U*322)+datum.V*((1-datum.U)*308+datum.U*253))+datum.W*((1-datum.V)*((1-datum.U)*105+datum.U*50)+datum.V*((1-datum.U)*45+datum.U*23))","as":"sy"}],
"mark":{"type":"line","stroke":"#222222","strokeWidth":0.9},
"encoding":{"detail":{"field":"id"},"strokeDash":{"field":"kind","type":"nominal","scale":{"domain":["major","minor"],"range":[[14,3],[4,3]]},"legend":null}}},
{"data":{"name":"regions"},
"transform":[{"window":[{"op":"row_number","as":"seq"}],"groupby":["region"]},{"calculate":"(datum.k1-10)/80/((datum.k1-10)/80+(90-datum.k1)/80*0.8)","as":"U"},{"calculate":"(datum.k2-10)/80/((datum.k2-10)/80+(90-datum.k2)/80*0.8)","as":"V"},{"calculate":"datum.z/80/(datum.z/80+(80-datum.z)/80*1.08)","as":"W"},{"calculate":"(1-datum.W)*((1-datum.V)*((1-datum.U)*197+datum.U*410)+datum.V*((1-datum.U)*32+datum.U*237))+datum.W*((1-datum.V)*((1-datum.U)*199+datum.U*428)+datum.V*((1-datum.U)*16+datum.U*233))","as":"sx"},{"calculate":"(1-datum.W)*((1-datum.V)*((1-datum.U)*412+datum.U*322)+datum.V*((1-datum.U)*308+datum.U*253))+datum.W*((1-datum.V)*((1-datum.U)*105+datum.U*50)+datum.V*((1-datum.U)*45+datum.U*23))","as":"sy"}],
"mark":{"type":"line","strokeOpacity":0},
"encoding":{"detail":{"field":"region"},"order":{"field":"seq","type":"quantitative"},"fill":{"field":"band","type":"ordinal","scale":{"domain":[-10,0,10,20,30,40,50,60,70],"range":["#000000","#0000ff","#007fff","#00ffff","#00ff7f","#00ff00","#ffff00","#ff7f00","#ff0000"]},"legend":null}}},
{"data":{"name":"surface"},
"transform":[{"calculate":"(datum.k1-10)/80/((datum.k1-10)/80+(90-datum.k1)/80*0.8)","as":"U"},{"calculate":"(datum.k2-10)/80/((datum.k2-10)/80+(90-datum.k2)/80*0.8)","as":"V"},{"calculate":"datum.z/80/(datum.z/80+(80-datum.z)/80*1.08)","as":"W"},{"calculate":"(1-datum.W)*((1-datum.V)*((1-datum.U)*197+datum.U*410)+datum.V*((1-datum.U)*32+datum.U*237))+datum.W*((1-datum.V)*((1-datum.U)*199+datum.U*428)+datum.V*((1-datum.U)*16+datum.U*233))","as":"sx"},{"calculate":"(1-datum.W)*((1-datum.V)*((1-datum.U)*412+datum.U*322)+datum.V*((1-datum.U)*308+datum.U*253))+datum.W*((1-datum.V)*((1-datum.U)*105+datum.U*50)+datum.V*((1-datum.U)*45+datum.U*23))","as":"sy"},{"window":[{"op":"lead","field":"sx","as":"nx"},{"op":"lead","field":"sy","as":"ny"},{"op":"lead","field":"z","as":"nz"}],"sort":[{"field":"k2"}],"groupby":["k1"]},{"filter":"datum.nx != null"},{"calculate":"floor(min(datum.z,datum.nz)/10)*10","as":"seg"}],
"mark":{"type":"rule","strokeWidth":1},
"encoding":{"x2":{"field":"nx"},"y2":{"field":"ny"},"stroke":{"field":"seg","type":"ordinal","scale":{"domain":[0,10,20,30,40,50,60,70],"range":["#b0d0f4","#b0d0f4","#0c6a80","#1050c8","#1a78d8","#35dcb0","#5ec88c","#60c040"]},"legend":null}}},
{"data":{"name":"surface"},
"transform":[{"calculate":"(datum.k1-10)/80/((datum.k1-10)/80+(90-datum.k1)/80*0.8)","as":"U"},{"calculate":"(datum.k2-10)/80/((datum.k2-10)/80+(90-datum.k2)/80*0.8)","as":"V"},{"calculate":"datum.z/80/(datum.z/80+(80-datum.z)/80*1.08)","as":"W"},{"calculate":"(1-datum.W)*((1-datum.V)*((1-datum.U)*197+datum.U*410)+datum.V*((1-datum.U)*32+datum.U*237))+datum.W*((1-datum.V)*((1-datum.U)*199+datum.U*428)+datum.V*((1-datum.U)*16+datum.U*233))","as":"sx"},{"calculate":"(1-datum.W)*((1-datum.V)*((1-datum.U)*412+datum.U*322)+datum.V*((1-datum.U)*308+datum.U*253))+datum.W*((1-datum.V)*((1-datum.U)*105+datum.U*50)+datum.V*((1-datum.U)*45+datum.U*23))","as":"sy"},{"window":[{"op":"lead","field":"sx","as":"nx"},{"op":"lead","field":"sy","as":"ny"},{"op":"lead","field":"z","as":"nz"}],"sort":[{"field":"k1"}],"groupby":["k2"]},{"filter":"datum.nx != null"},{"calculate":"floor(min(datum.z,datum.nz)/10)*10","as":"seg"}],
"mark":{"type":"rule","strokeWidth":1},
"encoding":{"x2":{"field":"nx"},"y2":{"field":"ny"},"stroke":{"field":"seg","type":"ordinal","scale":{"domain":[0,10,20,30,40,50,60,70],"range":["#b0d0f4","#b0d0f4","#0c6a80","#1050c8","#1a78d8","#35dcb0","#5ec88c","#60c040"]},"legend":null}}},
{"data":{"name":"axes3d"},
"transform":[{"flatten":["k1","k2","z"]},{"calculate":"(datum.k1-10)/80/((datum.k1-10)/80+(90-datum.k1)/80*0.8)","as":"U"},{"calculate":"(datum.k2-10)/80/((datum.k2-10)/80+(90-datum.k2)/80*0.8)","as":"V"},{"calculate":"datum.z/80/(datum.z/80+(80-datum.z)/80*1.08)","as":"W"},{"calculate":"(1-datum.W)*((1-datum.V)*((1-datum.U)*197+datum.U*410)+datum.V*((1-datum.U)*32+datum.U*237))+datum.W*((1-datum.V)*((1-datum.U)*199+datum.U*428)+datum.V*((1-datum.U)*16+datum.U*233))","as":"sx"},{"calculate":"(1-datum.W)*((1-datum.V)*((1-datum.U)*412+datum.U*322)+datum.V*((1-datum.U)*308+datum.U*253))+datum.W*((1-datum.V)*((1-datum.U)*105+datum.U*50)+datum.V*((1-datum.U)*45+datum.U*23))","as":"sy"}],
"mark":{"type":"line","stroke":"#000000","strokeWidth":1.8},
"encoding":{"detail":{"field":"id"}}},
{"data":{"name":"ticks3d"},
"transform":[{"calculate":"(datum.k1-10)/80/((datum.k1-10)/80+(90-datum.k1)/80*0.8)","as":"U"},{"calculate":"(datum.k2-10)/80/((datum.k2-10)/80+(90-datum.k2)/80*0.8)","as":"V"},{"calculate":"datum.z/80/(datum.z/80+(80-datum.z)/80*1.08)","as":"W"},{"calculate":"(1-datum.W)*((1-datum.V)*((1-datum.U)*197+datum.U*410)+datum.V*((1-datum.U)*32+datum.U*237))+datum.W*((1-datum.V)*((1-datum.U)*199+datum.U*428)+datum.V*((1-datum.U)*16+datum.U*233))","as":"sx"},{"calculate":"(1-datum.W)*((1-datum.V)*((1-datum.U)*412+datum.U*322)+datum.V*((1-datum.U)*308+datum.U*253))+datum.W*((1-datum.V)*((1-datum.U)*105+datum.U*50)+datum.V*((1-datum.U)*45+datum.U*23))","as":"sy"}],
"layer":[
{"mark":{"type":"point","filled":true,"color":"#000000","size":9,"opacity":1}},
{"transform":[{"filter":"datum.axis=='k1'"}],"mark":{"type":"text","fontSize":13,"color":"#444444","xOffset":20,"yOffset":15},"encoding":{"text":{"field":"label"}}},
{"transform":[{"filter":"datum.axis=='k2'"}],"mark":{"type":"text","fontSize":13,"color":"#444444","xOffset":-14,"yOffset":14},"encoding":{"text":{"field":"label"}}},
{"transform":[{"filter":"datum.axis=='v'&&datum.z>0"}],"mark":{"type":"text","fontSize":13,"color":"#444444","xOffset":20,"yOffset":3},"encoding":{"text":{"field":"label"}}},
{"transform":[{"filter":"datum.axis=='v'&&datum.z==0"}],"mark":{"type":"text","fontSize":13,"color":"#444444","xOffset":14,"yOffset":-1},"encoding":{"text":{"field":"label"}}},
{"transform":[{"filter":"datum.axis=='k2'&&datum.k2==50"}],"mark":{"type":"text","text":"K₂ (kN/m)","fontSize":15.5,"color":"#222222","angle":35,"xOffset":-26,"yOffset":46}},
{"transform":[{"filter":"datum.axis=='k1'&&datum.k1==50"}],"mark":{"type":"text","text":"K₁ (kN/m)","fontSize":15.5,"color":"#222222","angle":-25,"xOffset":47,"yOffset":40}},
{"transform":[{"filter":"datum.axis=='v'&&datum.z==40"}],"mark":{"type":"text","text":"VDV (m/s","fontSize":15.5,"color":"#222222","angle":-88,"xOffset":47,"yOffset":10}},
{"transform":[{"filter":"datum.axis=='v'&&datum.z==40"}],"mark":{"type":"text","text":"1.75","fontSize":10,"color":"#222222","angle":-88,"xOffset":43,"yOffset":-33}},
{"transform":[{"filter":"datum.axis=='v'&&datum.z==40"}],"mark":{"type":"text","text":")","fontSize":15.5,"color":"#222222","angle":-88,"xOffset":49,"yOffset":-45}}
]}
]},
{"spacing":0,"bounds":"flush","vconcat":[
{"width":429,"height":31,"data":{"values":[{"a":0}]},"mark":{"type":"point","opacity":0},"encoding":{}},
{"width":429,"height":358,
"encoding":{
"x":{"field":"k1","type":"quantitative","scale":{"domain":[10,90],"nice":false,"zero":false},"axis":{"values":[10,15,20,25,30,35,40,45,50,55,60,65,70,75,80,85,90],"labelExpr":"datum.value%10===0?datum.label:''","tickSize":{"condition":{"test":"datum.value%10===0","value":6},"value":3},"grid":false,"domainColor":"#000000","domainWidth":1.5,"tickColor":"#000000","tickWidth":1.2,"labelFontSize":13,"labelColor":"#222222","labelOverlap":false,"labelFlush":false,"labelPadding":4,"title":"K₁ (kN/m)","titleFontSize":15.5,"titleFontWeight":"normal","titleColor":"#222222","titlePadding":10}},
"y":{"field":"k2","type":"quantitative","scale":{"domain":[10,90],"nice":false,"zero":false},"axis":{"values":[10,15,20,25,30,35,40,45,50,55,60,65,70,75,80,85,90],"labelExpr":"datum.value%10===0?datum.label:''","tickSize":{"condition":{"test":"datum.value%10===0","value":6},"value":3},"grid":false,"domainColor":"#000000","domainWidth":1.5,"tickColor":"#000000","tickWidth":1.2,"labelFontSize":13,"labelColor":"#222222","labelOverlap":false,"labelPadding":5,"title":"K₂ (kN/m)","titleFontSize":15.5,"titleFontWeight":"normal","titleColor":"#222222","titleX":-40,"titleY":191}}},
"layer":[
{"data":{"name":"regions"},"transform":[{"window":[{"op":"row_number","as":"seq"}],"groupby":["region"]}],
"mark":{"type":"line","stroke":"#000000","strokeWidth":0.9,"clip":true,"interpolate":"catmull-rom"},
"encoding":{"detail":{"field":"region"},"order":{"field":"seq","type":"quantitative"},"fill":{"field":"band","type":"ordinal","scale":{"domain":[-10,0,10,20,30,40,50,60,70],"range":["#000000","#0000ff","#007fff","#00ffff","#00ff7f","#00ff00","#ffff00","#ff7f00","#ff0000"]},"legend":null}}},
{"data":{"values":[{"k1":13,"k2":84.6,"label":"60.0"},{"k1":13,"k2":71.9,"label":"50.0"},{"k1":12.8,"k2":13.6,"label":"10.0"},{"k1":23.2,"k2":22.7,"label":"20.0"},{"k1":31.6,"k2":32.6,"label":"30.0"},{"k1":37.4,"k2":64.5,"label":"40.0"},{"k1":51.6,"k2":52,"label":"50.0"},{"k1":61.3,"k2":68.5,"label":"60.0"},{"k1":70.8,"k2":88,"label":"70.0"}]},
"mark":{"type":"text","fontSize":16,"color":"#111111"},"encoding":{"text":{"field":"label"}}},
{"data":{"name":"frameTicks"},"mark":{"type":"tick","orient":"vertical","size":5,"thickness":1,"color":"#333333","opacity":1}},
{"data":{"name":"frameTicksY"},"mark":{"type":"tick","orient":"horizontal","size":5,"thickness":1,"color":"#333333","opacity":1}},
{"data":{"values":[{"k1":10,"k2":90,"k1e":90,"k2e":90},{"k1":90,"k2":10,"k1e":90,"k2e":90},{"k1":10,"k2":10,"k1e":90,"k2e":10},{"k1":10,"k2":10,"k1e":10,"k2e":90}]},
"mark":{"type":"rule","stroke":"#222222","strokeWidth":1.5},"encoding":{"x2":{"field":"k1e"},"y2":{"field":"k2e"}}}
]}
]},
{"width":563,"height":442,
"data":{"values":[{"band":-10,"top":0,"label":"0"},{"band":0,"top":10,"label":"10.0"},{"band":10,"top":20,"label":"20.0"},{"band":20,"top":30,"label":"30.0"},{"band":30,"top":40,"label":"40.0"},{"band":40,"top":50,"label":"50.0"},{"band":50,"top":60,"label":"60.0"},{"band":60,"top":70,"label":"70.0"},{"band":70,"top":80,"label":"80.0"}]},
"layer":[
{"mark":{"type":"rect"},"encoding":{"x":{"datum":0,"type":"quantitative","scale":{"domain":[0,1],"range":[447,504]},"axis":null},"x2":{"datum":1},"y":{"field":"top","type":"quantitative","scale":{"domain":[-10,80],"range":[362.5,69],"nice":false,"zero":false},"axis":null},"y2":{"field":"band"},"fill":{"field":"band","type":"ordinal","scale":{"domain":[-10,0,10,20,30,40,50,60,70],"range":["#000000","#0000ff","#007fff","#00ffff","#00ff7f","#00ff00","#ffff00","#ff7f00","#ff0000"]},"legend":null}}},
{"mark":{"type":"text","align":"left","fontSize":12,"color":"#222222","dx":5},"encoding":{"x":{"datum":1,"type":"quantitative"},"y":{"field":"top","type":"quantitative"},"text":{"field":"label"}}},
{"transform":[{"filter":"datum.top==80"}],"mark":{"type":"text","text":"VDV (m/s","align":"right","fontSize":15.5,"color":"#222222"},"encoding":{"x":{"datum":1.491,"type":"quantitative"},"y":{"datum":95.3,"type":"quantitative"}}},
{"transform":[{"filter":"datum.top==80"}],"mark":{"type":"text","text":"1.75","align":"left","fontSize":10,"color":"#222222"},"encoding":{"x":{"datum":1.491,"type":"quantitative"},"y":{"datum":97.5,"type":"quantitative"}}},
{"transform":[{"filter":"datum.top==80"}],"mark":{"type":"text","text":")","align":"left","fontSize":15.5,"color":"#222222"},"encoding":{"x":{"datum":1.825,"type":"quantitative"},"y":{"datum":95.3,"type":"quantitative"}}}
]}
]}
